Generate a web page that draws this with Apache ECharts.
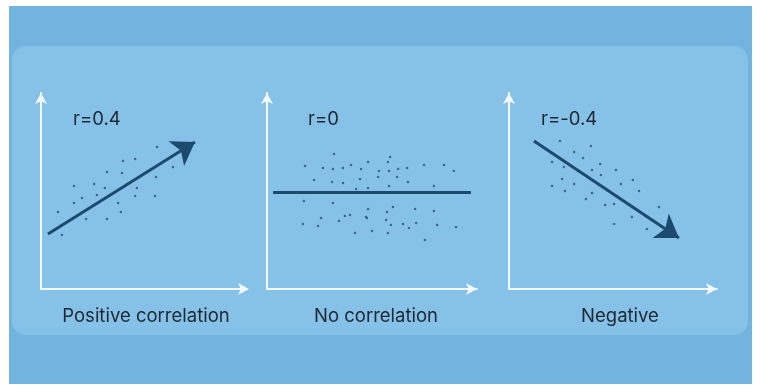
<!DOCTYPE html>
<html><head><meta charset="utf-8">
<script src="https://cdn.jsdelivr.net/npm/echarts@6/dist/echarts.min.js"></script>
<style>html,body{margin:0;padding:0;background:#fff}#c{width:760px;height:389px}</style>
</head><body><div id="c"></div>
<script>
// Panel titles / labels
const panelNames = ['Positive correlation', 'No correlation', 'Negative'];
const rLabels = ['r=0.4', 'r=0', 'r=-0.4'];

// Scatter points per panel [x, y] on a 0-10 scale
const positivePoints = [
  [5.66,7.24],[4.0,6.53],[4.59,6.63],[6.44,6.22],[3.22,5.97],[3.95,5.92],[5.61,5.71],
  [1.61,5.26],[2.59,5.36],[3.12,5.15],[4.68,5.15],[2.0,4.64],[2.73,4.80],[4.59,4.74],
  [5.56,4.74],[1.61,4.39],[3.76,4.39],[0.83,3.93],[3.90,3.93],[2.20,3.57],[3.22,3.57],[1.02,2.76]
];
const nonePoints = [
  [3.19,6.89],[5.86,6.73],[1.81,6.28],[4.81,6.48],[5.76,6.48],[2.67,6.17],[3.14,6.12],
  [3.62,6.17],[4.0,6.33],[4.48,6.12],[5.33,6.02],[5.81,6.02],[6.24,6.12],[6.67,6.17],
  [7.48,6.33],[8.43,6.33],[8.90,6.02],[5.29,5.71],[6.19,5.71],[2.24,5.56],[4.43,5.61],
  [3.10,5.46],[3.62,5.41],[6.71,5.46],[5.81,5.26],[7.95,5.26],[4.24,5.10],[4.81,5.15],
  [1.76,4.49],[3.14,4.39],[4.81,4.08],[6.0,4.18],[7.05,4.08],[7.95,3.98],[2.57,3.62],
  [3.71,3.72],[3.95,3.78],[4.71,3.67],[4.76,3.62],[5.71,3.93],[5.67,3.52],[3.43,3.47],
  [1.71,3.32],[2.43,3.21],[5.90,3.27],[6.48,3.32],[6.76,3.11],[7.10,3.37],[8.10,3.27],
  [9.0,3.16],[4.19,2.86],[5.0,2.96],[5.76,2.86],[7.52,2.50]
];
const negativePoints = [
  [2.45,7.55],[3.94,7.30],[3.13,6.99],[3.56,6.68],[2.07,6.48],[4.38,6.38],[2.64,6.22],
  [3.99,6.07],[5.14,6.07],[4.42,5.82],[2.55,5.61],[5.96,5.56],[3.13,5.36],[5.38,5.36],
  [2.07,5.26],[2.69,5.0],[6.25,5.0],[3.99,4.90],[3.70,4.59],[4.62,4.29],[5.05,4.34],
  [7.21,4.18],[5.91,3.67],[5.05,3.32],[6.63,3.06]
];
// Trend lines [start, end]
const positiveTrend = [[0.34,2.81],[7.51,7.50]];
const noneTrend = [[0.29,4.95],[9.71,4.95]];
const negativeTrend = [[1.20,7.55],[8.17,2.60]];

const pointsAll = [positivePoints, nonePoints, negativePoints];
const trendsAll = [positiveTrend, noneTrend, negativeTrend];
const trendArrow = [true, false, true];

const grids = [
  {left:41, top:93, width:205, height:196},
  {left:267, top:93, width:210, height:196},
  {left:509, top:93, width:208, height:196}
];
const rLeft = [73, 308, 541];
const nameCenter = [146, 376, 620];
const xArrowShift = [3, 0, 0];
const axisColor = '#f3f8fc';
const darkLine = '#1c4a6c';
const textColor = '#1d2833';

const xAxes = [], yAxes = [], series = [], titles = [];
grids.forEach((g, i) => {
  const lineStyle = {color:axisColor, width:2};
  xAxes.push({gridIndex:i, type:'value', min:0, max:10,
    axisLine:{show:true, lineStyle, symbol:['none','arrow'], symbolSize:[9,11], symbolOffset:[0, xArrowShift[i]]},
    axisTick:{show:false}, axisLabel:{show:false}, splitLine:{show:false}});
  yAxes.push({gridIndex:i, type:'value', min:0, max:10,
    axisLine:{show:true, lineStyle, symbol:['none','arrow'], symbolSize:[9,11]},
    axisTick:{show:false}, axisLabel:{show:false}, splitLine:{show:false}});
  series.push({type:'scatter', xAxisIndex:i, yAxisIndex:i, data:pointsAll[i], symbolSize:2.5, itemStyle:{color:'#2d5475'}, silent:true});
  series.push({type:'lines', coordinateSystem:'cartesian2d', xAxisIndex:i, yAxisIndex:i,
    data:[{coords:trendsAll[i]}],
    symbol: trendArrow[i] ? ['none','arrow'] : ['none','none'], symbolSize:[18,22],
    lineStyle:{color:darkLine, width:3, opacity:1}, silent:true});
  titles.push({text:rLabels[i], left:rLeft[i], top:110, padding:0, textStyle:{fontFamily:'Inter', fontSize:18.5, fontWeight:'normal', color:textColor}});
  titles.push({text:panelNames[i], left:nameCenter[i], textAlign:'center', top:307, padding:0, textStyle:{fontFamily:'Inter', fontSize:18.5, fontWeight:'normal', color:textColor}});
});

const chart = echarts.init(document.getElementById('c'));
chart.setOption({
  backgroundColor:'#ffffff',
  animation:false,
  graphic:[
    {type:'rect', z:-10, shape:{x:9, y:6, width:743, height:378}, style:{fill:'#72b3df'}},
    {type:'rect', z:-9, shape:{x:12, y:46, width:736, height:289, r:14}, style:{fill:'#86c1e8'}}
  ],
  title:titles,
  grid:grids,
  xAxis:xAxes,
  yAxis:yAxes,
  series:series
});
</script></body></html>
